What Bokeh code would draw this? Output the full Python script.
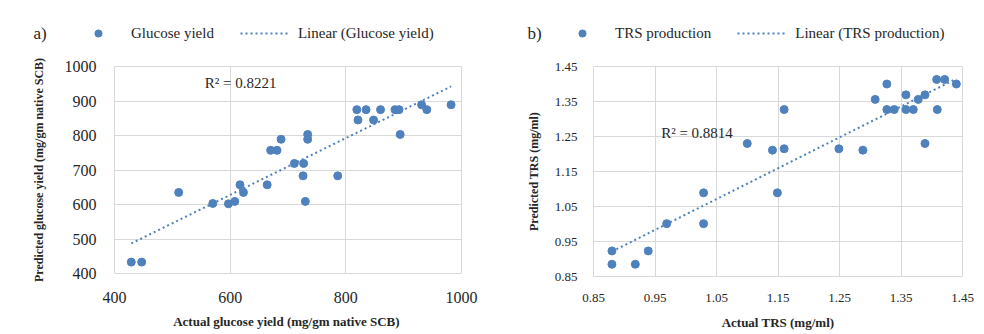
import numpy as np
from bokeh.plotting import figure
from bokeh.layouts import row, column
from bokeh.models import (FixedTicker, Legend, LegendItem, Label, Range1d,
                          PrintfTickFormatter)
from bokeh.embed import file_html
from bokeh.resources import INLINE

# ---------------- data ----------------
glucose_actual = [819, 835, 860, 885, 892, 821, 848, 931, 940, 982, 894, 670, 681, 688,
                  734, 734, 711, 727, 726, 786, 730, 511, 570, 597, 608, 617, 623, 664,
                  429, 447]
glucose_pred = [875, 875, 875, 875, 875, 845, 845, 889, 875, 889, 803, 757, 757, 789,
                803, 789, 719, 719, 683, 683, 609, 635, 603, 602, 609, 657, 635, 657,
                433, 433]
glucose_x_ticks = [400, 600, 800, 1000]
glucose_y_ticks = [400, 500, 600, 700, 800, 900, 1000]
glucose_r2 = "R² = 0.8221"

trs_actual = [1.100, 1.141, 1.160, 1.160, 1.249, 1.288, 1.308, 1.327, 1.327, 1.339,
              1.358, 1.358, 1.370, 1.378, 1.389, 1.389, 1.408, 1.421, 1.409, 1.440,
              1.149, 1.029, 1.029, 0.969, 0.939, 0.880, 0.880, 0.918]
trs_pred = [1.230, 1.211, 1.215, 1.327, 1.215, 1.211, 1.356, 1.400, 1.327, 1.327,
            1.369, 1.327, 1.327, 1.356, 1.369, 1.230, 1.413, 1.413, 1.327, 1.400,
            1.089, 1.089, 1.001, 1.001, 0.923, 0.923, 0.885, 0.885]
trs_ticks = [0.85, 0.95, 1.05, 1.15, 1.25, 1.35, 1.45]
trs_r2 = "R² = 0.8814"

BLUE = "#4F81BD"
GRID = "#D9D9D9"
FONT = "Liberation Serif"
TXT = "#262626"
HEAD_H = 50
TOTAL_H = 332


def no_align(fig):
    try:
        fig.frame_align = False
    except AttributeError:
        pass


def header(width, tag, series, xs, ys, leg_vx, tag_x):
    # header strip: range chosen so the sample renderers below stay out of view
    h = figure(width=width, height=HEAD_H, x_range=Range1d(0, 1), y_range=Range1d(0, 1),
               output_backend="svg", toolbar_location=None,
               x_axis_location=None, y_axis_location=None,
               min_border_left=0, min_border_right=0, min_border_top=0,
               min_border_bottom=0)
    no_align(h)
    h.outline_line_color = None
    h.grid.visible = False
    d = h.scatter(xs[:1], ys[:1], size=8, fill_color=BLUE, line_color=BLUE)
    l = h.line(xs[:2], ys[:2], line_color=BLUE, line_width=2, line_dash="2 3")
    legend = Legend(items=[LegendItem(label=series, renderers=[d]),
                           LegendItem(label="Linear (%s)" % series, renderers=[l])],
                    orientation="horizontal", location=(leg_vx, 8),
                    background_fill_alpha=0, border_line_color=None,
                    padding=0, margin=0, spacing=26, glyph_width=50,
                    glyph_height=18, label_height=18, label_standoff=8,
                    label_text_font=FONT, label_text_font_size="15px",
                    label_text_color=TXT)
    h.add_layout(legend, "center")
    h.add_layout(Label(x=tag_x, y=17, x_units="screen", y_units="screen", text=tag,
                       text_font=FONT, text_font_size="17px", text_color=TXT,
                       text_baseline="middle"))
    return h


def panel(xs, ys, xticks, yticks, xlab, ylab, r2, r2_pos,
          width, height, fl, fw, ft, fh, tick_size, fmt,
          x_std, xl_std, y_std, yl_std):
    xr = Range1d(xticks[0], xticks[-1])
    yr = Range1d(yticks[0], yticks[-1])
    p = figure(width=width, height=height, x_range=xr, y_range=yr,
               output_backend="svg", toolbar_location=None,
               min_border_left=fl, min_border_right=width - fl - fw,
               min_border_top=ft, min_border_bottom=height - ft - fh)
    no_align(p)
    p.outline_line_color = GRID
    p.outline_line_width = 1
    p.background_fill_color = "white"
    p.border_fill_color = "white"
    for ax in (p.xaxis[0], p.yaxis[0]):
        ax.axis_line_color = None
        ax.major_tick_line_color = None
        ax.minor_tick_line_color = None
        ax.major_label_text_font = FONT
        ax.major_label_text_font_size = tick_size
        ax.major_label_text_color = TXT
        ax.axis_label_text_font = FONT
        ax.axis_label_text_font_style = "bold"
        ax.axis_label_text_color = TXT
        if fmt:
            ax.formatter = PrintfTickFormatter(format=fmt)
    p.xaxis[0].ticker = FixedTicker(ticks=xticks)
    p.yaxis[0].ticker = FixedTicker(ticks=yticks)
    p.xaxis[0].axis_label = xlab
    p.yaxis[0].axis_label = ylab
    p.xaxis[0].axis_label_text_font_size = "13px"
    p.yaxis[0].axis_label_text_font_size = "12px"
    p.xaxis[0].major_label_standoff = x_std
    p.xaxis[0].axis_label_standoff = xl_std
    p.yaxis[0].major_label_standoff = y_std
    p.yaxis[0].axis_label_standoff = yl_std
    p.grid.grid_line_color = GRID
    p.grid.grid_line_width = 1
    p.xgrid[0].ticker = FixedTicker(ticks=xticks)
    p.ygrid[0].ticker = FixedTicker(ticks=yticks)

    # linear trendline from the data
    slope, intercept = np.polyfit(xs, ys, 1)
    tx = [min(xs), max(xs)]
    ty = [slope * v + intercept for v in tx]
    p.line(tx, ty, line_color=BLUE, line_width=2, line_dash="2 3")
    p.scatter(xs, ys, size=8, fill_color=BLUE, line_color=BLUE)

    p.add_layout(Label(x=r2_pos[0], y=r2_pos[1], text=r2, text_font=FONT,
                       text_font_size="15px", text_color=TXT,
                       text_baseline="middle", text_align="left"))
    return p


ha = header(490, "a)", "Glucose yield", glucose_actual, glucose_pred, 73, 33)
pa = panel(glucose_actual, glucose_pred, glucose_x_ticks, glucose_y_ticks,
           "Actual  glucose yield (mg/gm native SCB)",
           "Predicted glucose yield (mg/gm native SCB)",
           glucose_r2, (556, 951),
           490, TOTAL_H - HEAD_H, 114, 347, 66 - HEAD_H, 207, "16px", None,
           12, 8, 12, 16)
hb = header(492, "b)", "TRS production", trs_actual, trs_pred, 67, 37)
pb = panel(trs_actual, trs_pred, trs_ticks, trs_ticks,
           "Actual TRS (mg/ml)", "Predicted TRS (mg/ml)",
           trs_r2, (0.96, 1.26),
           492, TOTAL_H - HEAD_H, 103, 369, 66 - HEAD_H, 212, "13px", "%.2f",
           11, 10, 10, 11)

layout = row(column(ha, pa), column(hb, pb))
open("out.html", "w").write(file_html(layout, INLINE))
